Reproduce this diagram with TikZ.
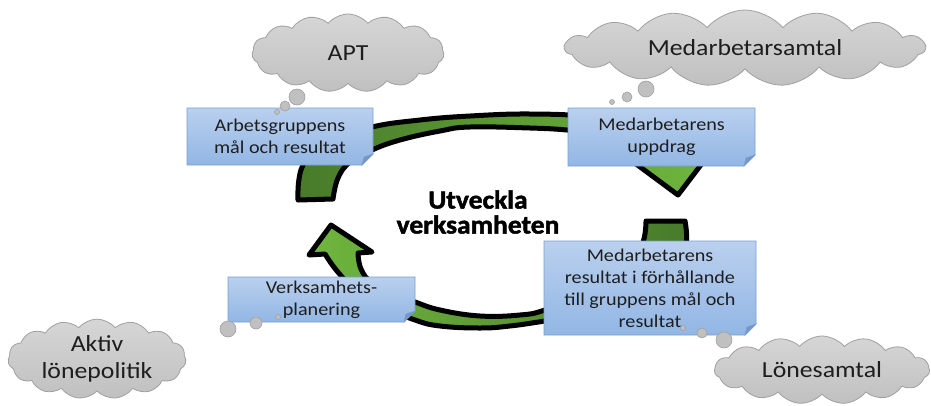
\documentclass[tikz,border=0pt]{standalone}
\usepackage{fontspec}
\setmainfont{Carlito}[FakeStretch=1.12]
\newfontfamily\heavyfont{Carlito}[FakeStretch=1.06,BoldFeatures={FakeBold=1.8}]
\usetikzlibrary{shapes.symbols}

\definecolor{leafdark}{RGB}{72,122,42}
\definecolor{leafbright}{RGB}{112,182,62}
\definecolor{notetop}{RGB}{186,208,238}
\definecolor{notebot}{RGB}{146,182,228}
\definecolor{noteline}{RGB}{120,158,210}
\definecolor{noteflapc}{RGB}{118,150,196}
\definecolor{puffline}{RGB}{160,160,160}
\definecolor{pufftop}{RGB}{214,214,214}
\definecolor{puffbot}{RGB}{192,192,192}
\definecolor{inktext}{RGB}{30,30,30}

% note with folded corner: name, x1, y1, x2, y2, text
\newcommand{\notebox}[6]{%
  \path[notebody] (#2,#3) -- (#4,#3) -- (#4,#5-11) -- (#4-11,#5) -- (#2,#5) -- cycle;
  \path[noteflap] (#4,#5-11) -- (#4-11,#5) -- (#4-9,#5-8) -- cycle;
  \node[notetext] (#1) at ({(#2+#4)/2},{(#3+#5)/2}) {#6};
}

\begin{document}
\begin{tikzpicture}[x=1pt,y=-1pt,
    cyclearrow/.style={draw=black,line width=5pt,line join=round},
    notebody/.style={draw=noteline,line width=0.8pt,top color=notetop,bottom color=notebot},
    noteflap/.style={draw=noteline,line width=0.6pt,fill=noteflapc},
    notetext/.style={align=center,text=inktext,font=\fontsize{18}{22}\selectfont},
    thought/.style={cloud,cloud puffs=15,cloud puff arc=100,cloud ignores aspect,
        draw=puffline,line width=0.8pt,top color=pufftop,bottom color=puffbot,
        text=inktext,align=center,font=\fontsize{23}{27}\selectfont,inner sep=0pt},
    bubble/.style={draw=puffline,line width=0.6pt,fill=puffbot}]

    \useasboundingbox (0,0) rectangle (931,405);

    % upper arrow, left to right
    \path[cyclearrow,left color=leafdark,right color=leafbright]
        plot[smooth,tension=0.7] coordinates {(298,200) (303,165) (330,141) (372,127) (420,120) (470,116) (530,114) (590,117) (640,128) (672,141) (688,153)}
        -- (710,153) -- (678,195) -- (628,158)
        -- plot[smooth,tension=0.7] coordinates {(648,157) (630,144) (600,134) (567,130) (530,128) (470,127) (440,131) (400,140) (372,150) (350,162) (338,178) (333,199)}
        -- cycle;

    % lower arrow, right to left
    \path[cyclearrow,left color=leafbright,right color=leafdark]
        plot[smooth,tension=0.7] coordinates {(685,221) (685,250) (666,279) (630,300) (590,314) (545,321) (510,326) (480,328) (440,326) (415,320) (382,306) (354,288) (337,271) (325,254)}
        -- (309,255) -- (331,225) -- (372,252)
        -- plot[smooth,tension=0.7] coordinates {(358,253) (361,269) (372,283) (395,295) (415,302) (440,310) (480,316) (520,315) (545,310) (590,293) (625,268) (642,245) (646,221)}
        -- cycle;

    % notes
    \notebox{goals}{187}{108}{373}{165}{Arbetsgruppens\\mål och resultat}
    \notebox{task}{568}{108}{755}{166}{Medarbetarens\\uppdrag}
    \notebox{outcome}{544}{241}{756}{335}{Medarbetarens\\resultat i förhållande\\till gruppens mål och\\resultat}
    \notebox{planning}{228}{277}{415}{322}{Verksamhets-\\planering}

    % centre
    \node[align=center,font=\heavyfont\bfseries\fontsize{26}{25}\selectfont] (core) at (478,212) {Utveckla\\verksamheten};

    % clouds
    \node[thought,minimum width=192pt,minimum height=78pt] (apt) at (348,53) {APT};
    \node[thought,minimum width=360pt,minimum height=76pt] (talk) at (745,48) {Medarbetarsamtal};
    \node[thought,minimum width=178pt,minimum height=76pt] (policy) at (97,359) {Aktiv\\lönepolitik};
    \node[thought,minimum width=215pt,minimum height=68pt] (salary) at (822,370) {Lönesamtal};

    % thought bubbles
    \foreach \bx/\by/\br in {297/97/8, 285/106/5, 277/112/2.5,
                             646/89/8, 627/97/5, 612/102/2.5,
                             228/329/8, 256/323/6, 278/317/2.5,
                             724/340/8, 702/333/5, 683/328/2.5}
        \path[bubble] (\bx,\by) circle[radius=\br];
\end{tikzpicture}
\end{document}
